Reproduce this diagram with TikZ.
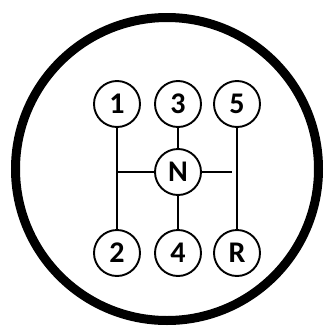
\documentclass[tikz,border=0pt]{standalone}
\usepackage{fontspec}
\setmainfont{Carlito}
\usepackage{tikz}
\usetikzlibrary{positioning}

\begin{document}
\begin{tikzpicture}[
        x=1pt, y=-1pt,
        gear/.style={circle, draw, line width=1.9pt, minimum size=46pt, inner sep=0pt,
            font=\bfseries\fontsize{30}{32}\selectfont},
        rail/.style={line width=1.3pt}
    ]
        \useasboundingbox (0,0) rectangle (325,327);
        \draw[line width=9pt] (167,169) circle (151.5);

        \node[gear] (N) at (178,172) {N};
        \node[gear] (g1) at (117,104) {1};
        \node[gear] (g3) at (178,104) {3};
        \node[gear] (g5) at (237,104) {5};
        \node[gear] (g2) at (117,253) {2};
        \node[gear] (g4) at (178,253) {4};
        \node[gear] (gR) at (237,253) {R};
        \coordinate (left) at (g1 |- N);
        \coordinate (right) at (232,172);

        \draw[rail] (g1) -- (g2);
        \draw[rail] (g5) -- (gR);
        \draw[rail] (g3) -- (N) -- (g4);
        \draw[rail] (left) -- (N) -- (right);
    \end{tikzpicture}
\end{document}
